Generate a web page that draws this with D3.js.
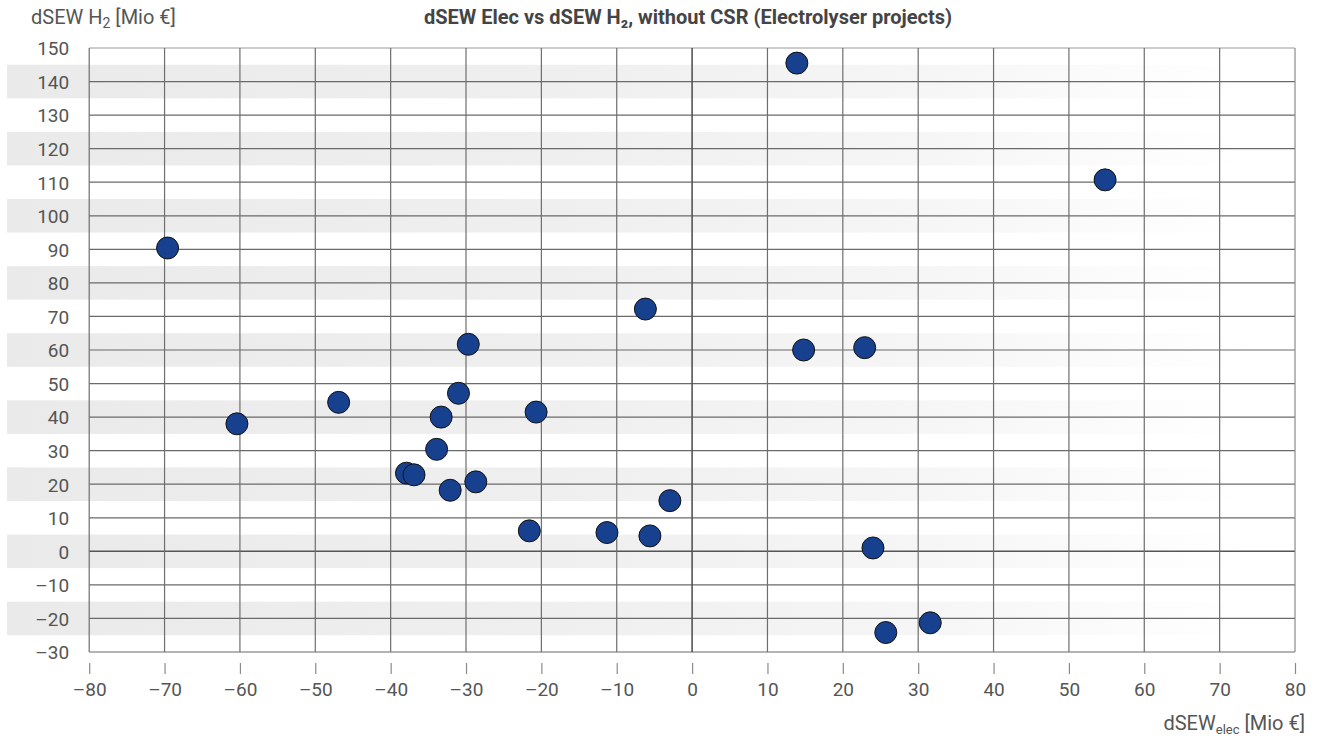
<!DOCTYPE html>
<html>
<head>
<meta charset="utf-8">
<script src="https://cdn.jsdelivr.net/npm/d3@7"></script>
<style>
  html, body { margin: 0; padding: 0; background: #fff; }
  svg { display: block; font-family: Roboto, "Open Sans", sans-serif; }
</style>
</head>
<body>
<svg id="chart" width="1321" height="738"></svg>
<script>
// ---- Data ----
const elecValues = [-69.6, -60.4, -46.9, -29.7, -31.0, -33.3, -20.7, -33.9, -37.9, -36.9, -32.1, -28.7,
                    -21.6, -11.3, -5.6, -2.95, -6.2, 13.9, 14.8, 22.9, 54.8, 24.0, 25.7, 31.6];
const h2Values   = [90.4, 38.0, 44.4, 61.7, 47.1, 40.0, 41.5, 30.4, 23.3, 22.8, 18.2, 20.7,
                    6.1, 5.6, 4.6, 15.1, 72.2, 145.5, 60.0, 60.7, 110.7, 1.0, -24.2, -21.3];
const xTicks = [-80, -70, -60, -50, -40, -30, -20, -10, 0, 10, 20, 30, 40, 50, 60, 70, 80];
const yTicks = [150, 140, 130, 120, 110, 100, 90, 80, 70, 60, 50, 40, 30, 20, 10, 0, -10, -20, -30];
const bandCenters = [140, 120, 100, 80, 60, 40, 20, 0, -20];
const titleText = "dSEW Elec vs dSEW H\u2082, without CSR (Electrolyser projects)";

// ---- Layout ----
const svg = d3.select("#chart");
const mLeft = 89.2, mRight = 1295, mTop = 48, mBottom = 652;
const x = d3.scaleLinear().domain([-80, 80]).range([mLeft, mRight]);
const y = d3.scaleLinear().domain([-30, 150]).range([mBottom, mTop]);
const fmt = v => (v < 0 ? "\u2013" + Math.abs(v) : String(v));

// gradient for bands
const defs = svg.append("defs");
const grad = defs.append("linearGradient").attr("id", "bandGrad")
  .attr("gradientUnits", "userSpaceOnUse").attr("x1", 7).attr("x2", 1245).attr("y1", 0).attr("y2", 0);
grad.append("stop").attr("offset", "0").attr("stop-color", "#eaeaea");
grad.append("stop").attr("offset", "0.45").attr("stop-color", "#efefef");
grad.append("stop").attr("offset", "0.75").attr("stop-color", "#f6f6f6");
grad.append("stop").attr("offset", "1").attr("stop-color", "#ffffff");

// bands
svg.append("g").selectAll("rect").data(bandCenters).join("rect")
  .attr("x", 7).attr("width", mRight - 7)
  .attr("y", d => y(d + 5)).attr("height", d => y(d - 5) - y(d + 5))
  .attr("fill", "url(#bandGrad)");

// grid
const grid = svg.append("g");
grid.selectAll("line.h").data(yTicks).join("line")
  .attr("x1", mLeft).attr("x2", mRight)
  .attr("y1", d => y(d)).attr("y2", d => y(d))
  .attr("stroke", d => d === 150 ? "#9a9a9a" : (d === 0 ? "#555" : "#6a6a6a"))
  .attr("stroke-width", d => d === 0 ? 1.5 : 1.2);
grid.selectAll("line.v").data(xTicks).join("line")
  .attr("y1", mTop).attr("y2", mBottom)
  .attr("x1", d => x(d)).attr("x2", d => x(d))
  .attr("stroke", d => d === 0 ? "#555" : (d === 80 ? "#8a8a8a" : "#6e6e6e"))
  .attr("stroke-width", d => d === 0 ? 1.6 : 1.2);

// x axis ticks + labels
const xAxis = svg.append("g").attr("transform", `translate(0,${mBottom})`)
  .call(d3.axisBottom(x).tickValues(xTicks).tickFormat(fmt).tickSize(0).tickPadding(0));
xAxis.select(".domain").remove();
xAxis.selectAll(".tick line").remove();
xAxis.selectAll(".tick").append("line")
  .attr("y1", 11).attr("y2", 22).attr("stroke", "#8a8a8a").attr("stroke-width", 1.2);
xAxis.selectAll(".tick text")
  .attr("y", 44).attr("dy", null)
  .attr("fill", "#555").attr("font-size", 19).attr("font-family", "Roboto, sans-serif");

// y axis labels
const yAxis = svg.append("g").attr("transform", `translate(${mLeft},0)`)
  .call(d3.axisLeft(y).tickValues(yTicks).tickFormat(fmt).tickSize(0).tickPadding(20));
yAxis.select(".domain").remove();
yAxis.selectAll(".tick line").remove();
yAxis.selectAll(".tick text")
  .attr("fill", "#555").attr("font-size", 19).attr("font-family", "Roboto, sans-serif")
  .attr("dy", "0.36em");

// points
svg.append("g").selectAll("circle").data(elecValues.map((v, i) => [v, h2Values[i]])).join("circle")
  .attr("cx", d => x(d[0])).attr("cy", d => y(d[1])).attr("r", 11)
  .attr("fill", "#17418f").attr("stroke", "#111").attr("stroke-width", 1);

// title
svg.append("text").attr("x", 688).attr("y", 24).attr("text-anchor", "middle")
  .attr("font-size", 20).attr("font-weight", "bold").attr("fill", "#444")
  .text(titleText);

// y label
const yl = svg.append("text").attr("x", 31).attr("y", 24)
  .attr("font-size", 20).attr("fill", "#555");
yl.append("tspan").text("dSEW H");
yl.append("tspan").attr("font-size", 14).attr("dy", 4).text("2");
yl.append("tspan").attr("dy", -4).text(" [Mio \u20ac]");

// x label
const xl = svg.append("text").attr("x", 1305).attr("y", 730).attr("text-anchor", "end")
  .attr("font-size", 20).attr("fill", "#555");
xl.append("tspan").text("dSEW");
xl.append("tspan").attr("font-size", 13).attr("dy", 4).text("elec");
xl.append("tspan").attr("dy", -4).text(" [Mio \u20ac]");
</script>
</body>
</html>
